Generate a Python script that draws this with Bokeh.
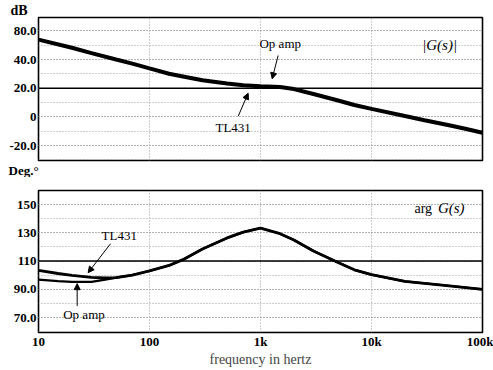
from bokeh.plotting import figure
from bokeh.layouts import column
from bokeh.models import FixedTicker, Span, Label, Arrow, NormalHead, Range1d, Title
from bokeh.embed import file_html
from bokeh.resources import INLINE

# ---------------- data ----------------
freq_mag = [10, 20, 30, 50, 70, 100, 150, 200, 300, 500, 700, 1000, 1500, 2000,
            3000, 5000, 7000, 10000, 20000, 30000, 50000, 70000, 100000]
mag_db = [53.9, 48.2, 44.5, 40.0, 37.1, 33.8, 30.1, 28.2, 25.5, 23.3, 22.1, 21.3, 20.9, 19.4,
          16.0, 11.4, 8.3, 5.6, 0.6, -2.3, -5.8, -8.3, -11.1]

freq_ph = [10, 15, 20, 30, 40, 50, 70, 100, 150, 200, 300, 500, 700, 1000, 1500, 2000,
           3000, 5000, 7000, 10000, 20000, 50000, 100000]
phase_tl431 = [103.4, 101.2, 99.8, 98.4, 98.0, 98.3, 100.1, 103.0, 106.9, 111.0, 118.5, 126.4,
               130.5, 133.4, 129.4, 124.9, 117.1, 109.0, 103.8, 100.4, 95.6, 92.5, 90.0]
phase_opamp = [96.8, 95.8, 95.2, 95.3, 96.8, 98.3, 100.1, 103.0, 106.9, 111.0, 118.5, 126.4,
               130.5, 133.4, 129.4, 124.9, 117.1, 109.0, 103.8, 100.4, 95.6, 92.5, 90.0]

x_ticks = [10, 100, 1000, 10000, 100000]
x_tick_labels = ["10", "100", "1k", "10k", "100k"]
mag_ticks = [60, 40, 20, 0, -20]
mag_tick_labels = ["80.0", "40.0", "20.0", "0", "-20.0"]
mag_grid = [-30, -20, -10, 0, 10, 20, 30, 40, 50, 60, 70]
ph_ticks = [150, 130, 110, 90, 70]
ph_tick_labels = ["150", "130", "110", "90.0", "70.0"]
ph_grid = [60, 70, 80, 90, 100, 110, 120, 130, 140, 150, 160]
mag_ref = 20
ph_ref = 110

FONT = "Liberation Serif"
GRID_COLOR = "#9a9a9a"


def style(p, yt, ylabels, ygrid):
    p.outline_line_color = "black"
    p.outline_line_width = 1.6
    p.background_fill_color = "white"
    p.border_fill_color = "white"
    p.yaxis.ticker = FixedTicker(ticks=yt, minor_ticks=ygrid)
    p.yaxis.major_label_overrides = dict(zip(yt, ylabels))
    p.xaxis.ticker = FixedTicker(ticks=x_ticks, minor_ticks=[])
    p.xaxis.major_label_overrides = dict(zip(x_ticks, x_tick_labels))
    for ax in (p.xaxis[0], p.yaxis[0]):
        ax.axis_line_color = None
        ax.major_tick_line_color = None
        ax.minor_tick_line_color = None
        ax.major_tick_out = 0
        ax.major_tick_in = 0
        ax.minor_tick_out = 0
        ax.minor_tick_in = 0
        ax.major_label_text_font = FONT
        ax.major_label_text_font_size = "13px"
        ax.major_label_text_font_style = "bold"
        ax.major_label_text_color = "black"
    p.yaxis.major_label_standoff = 2
    p.xaxis.major_label_standoff = 1
    p.xgrid.ticker = FixedTicker(ticks=x_ticks, minor_ticks=[])
    p.xgrid.grid_line_color = GRID_COLOR
    p.xgrid.grid_line_dash = "1 2"
    p.xgrid.grid_line_width = 1
    p.ygrid.grid_line_color = GRID_COLOR
    p.ygrid.grid_line_dash = "1 2"
    p.ygrid.minor_grid_line_color = GRID_COLOR
    p.ygrid.minor_grid_line_dash = "1 2"


def unit_title(text, offset, size):
    return Title(text=text, align="left", offset=offset, standoff=0, text_font=FONT,
                 text_font_size=size, text_font_style="bold", text_color="black")


def label(p, x, y, text, align="left", size="13px", style_="normal"):
    p.add_layout(Label(x=x, y=y, text=text, text_font=FONT, text_font_size=size,
                       text_align=align, text_baseline="middle", text_color="black",
                       text_font_style=style_))


def arrow(p, xs, ys, xe, ye):
    p.add_layout(Arrow(end=NormalHead(size=6, fill_color="black", line_color="black", line_width=1),
                       x_start=xs, y_start=ys, x_end=xe, y_end=ye,
                       line_color="black", line_width=1))


# ---------------- magnitude ----------------
p1 = figure(x_axis_type="log", x_range=Range1d(10, 100000), y_range=Range1d(-30.4, 69.3),
            frame_width=444, frame_height=143, output_backend="svg", toolbar_location=None,
            min_border_left=38, min_border_right=11, min_border_top=17, min_border_bottom=14,
            title=unit_title("dB", -28, "14px"))
style(p1, mag_ticks, mag_tick_labels, mag_grid)
p1.add_layout(unit_title("Deg.°", -30, "13px"), "below")
p1.xaxis.visible = False
p1.add_layout(Span(location=mag_ref, dimension="width", line_color="black", line_width=1.5))
p1.line(freq_mag, mag_db, line_color="black", line_width=4)
label(p1, 979, 51.2, "Op amp")
arrow(p1, 1442, 42.8, 1274, 26.6)
label(p1, 393, -7.4, "TL431")
arrow(p1, 630, 0.5, 774, 16.5)
label(p1, 28600, 49.8, "|G(s)|", size="15px", style_="italic")

# ---------------- phase ----------------
p2 = figure(x_axis_type="log", x_range=Range1d(10, 100000), y_range=Range1d(59.4, 160),
            frame_width=444, frame_height=142, output_backend="svg", toolbar_location=None,
            min_border_left=38, min_border_right=11, min_border_top=13, min_border_bottom=34)
style(p2, ph_ticks, ph_tick_labels, ph_grid)
p2.xaxis.axis_label = "frequency in hertz"
p2.xaxis.axis_label_text_font = FONT
p2.xaxis.axis_label_text_font_size = "14px"
p2.xaxis.axis_label_text_font_style = "normal"
p2.xaxis.axis_label_standoff = 0
p2.add_layout(Span(location=ph_ref, dimension="width", line_color="black", line_width=1.5))
p2.line(freq_ph, phase_opamp, line_color="black", line_width=2.2)
p2.line(freq_ph, phase_tl431, line_color="black", line_width=2.8)
label(p2, 37, 128.2, "TL431")
arrow(p2, 44.6, 122.3, 28, 101.8)
label(p2, 16.7, 72.0, "Op amp")
arrow(p2, 22.3, 78.2, 22.3, 94.0)
label(p2, 24400, 147.3, "arg", size="14px")
label(p2, 68900, 147.3, "G(s)", align="right", size="15px", style_="italic")

layout = column(p1, p2, spacing=0)
open("out.html", "w").write(file_html(layout, INLINE))
